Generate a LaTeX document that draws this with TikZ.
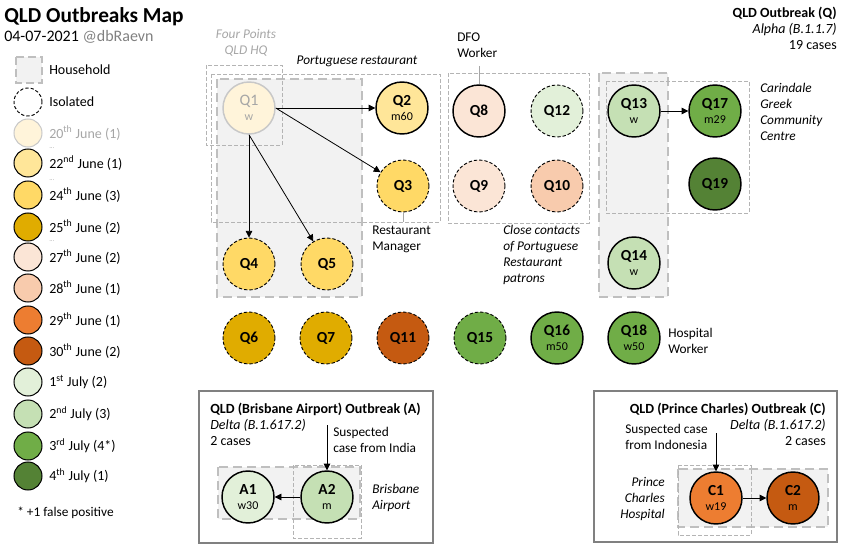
\documentclass[tikz,border=0pt]{standalone}
\usepackage{fontspec}
\setmainfont{Carlito}
\usetikzlibrary{arrows.meta}

\definecolor{jun20}{HTML}{FFF4DA}
\definecolor{jun22}{HTML}{FFE699}
\definecolor{jun24}{HTML}{FFD966}
\definecolor{jun25}{HTML}{E0AC00}
\definecolor{jun27}{HTML}{FBE5D6}
\definecolor{jun28}{HTML}{F8CBAD}
\definecolor{jun29}{HTML}{ED7D31}
\definecolor{jun30}{HTML}{C55A11}
\definecolor{jul01}{HTML}{E2F0D9}
\definecolor{jul02}{HTML}{C5E0B4}
\definecolor{jul03}{HTML}{70AD47}
\definecolor{jul04}{HTML}{548235}
\definecolor{hhfill}{HTML}{F2F2F2}
\definecolor{hhline}{HTML}{BFBFBF}
\definecolor{venueline}{HTML}{B4B4B4}
\definecolor{boxline}{HTML}{808080}
\definecolor{faint}{HTML}{C8C8C8}
\definecolor{fainttext}{HTML}{A6A6A6}
\definecolor{handle}{HTML}{808080}

\newcommand{\casenote}[1]{{\fontsize{9}{10}\selectfont\mdseries #1}}

\tikzset{
  case/.style={circle, minimum size=39pt, inner sep=0pt, align=center,
    font=\fontsize{11.5}{12}\selectfont\bfseries},
  confirmed/.style={case, draw=black, line width=1.1pt},
  isolated/.style={case, draw=black, line width=0.7pt, dash pattern=on 2.5pt off 1.5pt},
  faintcase/.style={case, draw=faint, line width=1.1pt, fill=jun20, text=fainttext,
    font=\fontsize{12}{12}\selectfont},
  keycase/.style={circle, minimum size=21pt, inner sep=0pt, draw=black, line width=0.75pt},
  household/.style={fill=hhfill, draw=hhline, line width=2.2pt, dash pattern=on 7pt off 3.5pt},
  venue/.style={draw=venueline, line width=0.7pt, dash pattern=on 3pt off 1.5pt},
  outbreak/.style={draw=boxline, line width=2.2pt},
  spread/.style={-{Triangle[length=5pt,width=5pt]}, line width=0.6pt},
  pointer/.style={draw=fainttext, line width=0.6pt},
  label/.style={inner sep=0pt, font=\fontsize{10.5}{12}\selectfont},
  note/.style={inner sep=0pt, font=\fontsize{10}{12}\selectfont},
}

\begin{document}
\begin{tikzpicture}[x=0.75pt,y=-0.75pt]
\useasboundingbox (0,0) rectangle (846,552);

\node[anchor=west, inner sep=0pt, font=\fontsize{16}{18}\selectfont\bfseries] (title) at (4,17) {QLD Outbreaks Map};
\node[anchor=west, inner sep=0pt, font=\fontsize{12}{14}\selectfont] (date) at (4,37) {04-07-2021 \textcolor{handle}{@dbRaevn}};

\draw[household, line width=2pt, dash pattern=on 6pt off 3pt] (16,57) rectangle (42,83);
\node[label, anchor=west] (key-hh) at (49,70) {Household};
\node[keycase, line width=0.7pt, dash pattern=on 2.5pt off 1.5pt] (key-iso) at (28,102) {};
\node[label, anchor=west] (keytext-iso) at (49,102) {Isolated};
\node[keycase, draw=faint, fill=jun20] (key-jun20) at (28,133) {};
\node[label, anchor=west, text=fainttext] (keytext-jun20) at (49,133) {20\textsuperscript{th} June (1)};
\foreach \y/\col/\txt in {163/jun22/{22\textsuperscript{nd} June (1)},
    195/jun24/{24\textsuperscript{th} June (3)},
    227/jun25/{25\textsuperscript{th} June (2)},
    257/jun27/{27\textsuperscript{th} June (2)},
    288/jun28/{28\textsuperscript{th} June (1)},
    320/jun29/{29\textsuperscript{th} June (1)},
    351/jun30/{30\textsuperscript{th} June (2)},
    382/jul01/{1\textsuperscript{st} July (2)},
    414/jul02/{2\textsuperscript{nd} July (3)},
    446/jul03/{3\textsuperscript{rd} July (4*)},
    476/jul04/{4\textsuperscript{th} July (1)}}
{
\node[keycase, fill=\col] (key-\col) at (28,\y) {};
\node[label, anchor=west] (keytext-\col) at (49,\y) {\txt};
}
\foreach \y in {148,180,241}
\node[anchor=west, inner sep=0pt, text=fainttext, font=\tiny] (gap-\y) at (49,\y) {...};
\node[note, anchor=west] (footnote) at (17,513) {* +1 false positive};

\node[label, anchor=east, align=right] (qhead) at (837,28) {\textbf{QLD Outbreak (Q)}\\\textit{Alpha (B.1.1.7)}\\19 cases};

\draw[household] (217,79) rectangle (362,297);
\draw[household] (599,73) rectangle (668,297);
\draw[venue] (206,65) rectangle (282,145);
\draw[venue] (211,74) rectangle (440,222);
\draw[venue] (448,73) rectangle (589,223);
\draw[venue] (606,81) rectangle (749,213);

\node[faintcase] (q1) at (249,108) {Q1\\[-1pt]\casenote{w}};
\node[confirmed, fill=jun22] (q2) at (402,108) {Q2\\[-1pt]\casenote{m60}};
\node[isolated, fill=jun24] (q3) at (403,186) {Q3};
\node[isolated, fill=jun24] (q4) at (249,264) {Q4};
\node[isolated, fill=jun24] (q5) at (327,264) {Q5};
\node[isolated, fill=jun25] (q6) at (249,338) {Q6};
\node[isolated, fill=jun25] (q7) at (326,338) {Q7};
\node[confirmed, fill=jun27] (q8) at (479,111) {Q8};
\node[isolated, fill=jun27] (q9) at (479,186) {Q9};
\node[isolated, fill=jun28] (q10) at (557,186) {Q10};
\node[isolated, fill=jun30] (q11) at (403,338) {Q11};
\node[isolated, fill=jul01] (q12) at (557,111) {Q12};
\node[confirmed, fill=jul02] (q13) at (634,111) {Q13\\[-1pt]\casenote{w}};
\node[confirmed, fill=jul02] (q14) at (634,263) {Q14\\[-1pt]\casenote{w}};
\node[isolated, fill=jul03] (q15) at (480,338) {Q15};
\node[confirmed, fill=jul03] (q16) at (557,338) {Q16\\[-1pt]\casenote{m50}};
\node[confirmed, fill=jul03] (q17) at (715,111) {Q17\\[-1pt]\casenote{m29}};
\node[confirmed, fill=jul03] (q18) at (634,338) {Q18\\[-1pt]\casenote{w50}};
\node[confirmed, fill=jul04] (q19) at (715,184) {Q19};

\draw[spread] (q1.east) -- (q2);
\draw[spread] (q1.east) -- (q3);
\draw[spread] (q1.south) -- (q4);
\draw[spread] (q1.south) -- (q5);
\draw[spread] (q13) -- (q17);

\coordinate (dfopin) at (479,66);
\coordinate (mgrpin) at (403,222);
\draw[pointer] (dfopin) -- (q8.north);
\draw[pointer] (q3.south) -- (mgrpin);

\node[note, text=fainttext, font=\fontsize{10}{12}\selectfont\itshape, align=center] (hq) at (246,43) {Four Points\\QLD HQ};
\node[note, font=\fontsize{10}{12}\selectfont\itshape] (resto) at (357,61) {Portuguese restaurant};
\node[note, anchor=north west, align=left] (manager) at (372,226) {Restaurant\\Manager};
\node[note, anchor=west, align=left] (dfo) at (457,45) {DFO\\Worker};
\node[note, anchor=west, align=left, font=\fontsize{10}{12}\selectfont\itshape] (contacts) at (503,255) {Close contacts\\of Portuguese\\Restaurant\\patrons};
\node[note, anchor=west, align=left, font=\fontsize{10}{12}\selectfont\itshape] (carindale) at (760,112) {Carindale\\Greek\\Community\\Centre};
\node[note, anchor=west, align=left] (hospital) at (668,341) {Hospital\\Worker};

\draw[outbreak] (199,391) rectangle (433,543);
\node[label, anchor=west, align=left] (ahead) at (210,424) {\textbf{QLD (Brisbane Airport) Outbreak (A)}\\\textit{Delta (B.1.617.2)}\\2 cases};
\draw[household] (218,467) rectangle (360,519);
\draw[venue] (293,465) rectangle (361,538);
\node[confirmed, fill=jul01] (a1) at (248,497) {A1\\[-1pt]\casenote{w30}};
\node[confirmed, fill=jul02] (a2) at (327,497) {A2\\[-1pt]\casenote{m}};
\coordinate (a2src) at (327,425);
\draw[spread] (a2src) -- (a2);
\draw[spread] (a2) -- (a1);
\node[note, anchor=west, align=left] (india) at (333,440) {Suspected\\case from India};
\node[note, anchor=west, align=left, font=\fontsize{10}{12}\selectfont\itshape] (airport) at (372,498) {Brisbane\\Airport};

\draw[outbreak] (594,391) rectangle (837,542);
\node[label, anchor=east, align=right] (chead) at (826,424) {\textbf{QLD (Prince Charles) Outbreak (C)}\\\textit{Delta (B.1.617.2)}\\2 cases};
\draw[household] (678,469) rectangle (828,527);
\draw[venue] (678,465) rectangle (751,535);
\node[confirmed, fill=jun29] (c1) at (716,498) {C1\\[-1pt]\casenote{w19}};
\node[confirmed, fill=jun30] (c2) at (793,498) {C2\\[-1pt]\casenote{m}};
\coordinate (c1src) at (716,433);
\draw[spread] (c1src) -- (c1);
\draw[spread] (c1) -- (c2);
\node[note, anchor=west, align=left] (indonesia) at (625,437) {Suspected case\\from Indonesia};
\node[note, anchor=east, align=right, font=\fontsize{10}{12}\selectfont\itshape] (princecharles) at (665,499) {Prince\\Charles\\Hospital};
\end{tikzpicture}
\end{document}
